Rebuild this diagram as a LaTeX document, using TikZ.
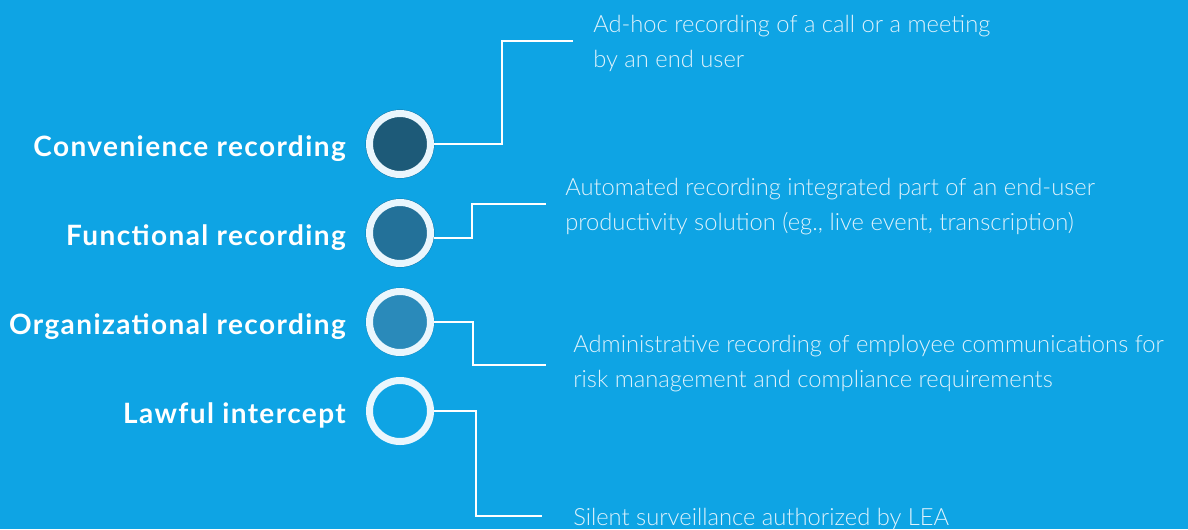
\documentclass[tikz,border=0pt]{standalone}
\usepackage{fontspec}
\setmainfont{Lato}
\newfontfamily\boldlabel{Lato}[UprightFont=*-Bold, LetterSpace=5]
\newfontfamily\lightfont{Lato Light}
\definecolor{bgc}{RGB}{14,164,228}
\definecolor{ringc}{RGB}{234,246,253}
\definecolor{edgec}{RGB}{20,90,130}
\definecolor{fillA}{RGB}{29,90,120}
\definecolor{fillB}{RGB}{35,113,153}
\definecolor{fillC}{RGB}{42,138,186}
\definecolor{descc}{RGB}{222,242,252}
\tikzset{
  ring/.style={circle, draw=ringc, line width=5.25pt, minimum size=45.75pt, inner sep=0pt},
  rim/.style={draw=edgec!70!bgc, line width=0.6pt},
  label/.style={anchor=base east, text=white, font=\boldlabel\fontsize{21pt}{25pt}\selectfont, inner sep=0pt},
  desc/.style={anchor=base west, text=descc, align=left, font=\lightfont\fontsize{17.8pt}{26.25pt}\selectfont, inner sep=0pt},
  link/.style={draw=white, line width=1.1pt},
}
\begin{document}
\begin{tikzpicture}[x=0.75pt,y=-0.75pt]
\fill[bgc] (0,0) rectangle (1188,529);
\useasboundingbox (0,0) rectangle (1188,529);
% circles
\draw[rim] (400,144) circle (34);
\node[ring, fill=fillA] (c1) at (400,144) {};
\draw[rim] (400,233) circle (34);
\node[ring, fill=fillB] (c2) at (400,233) {};
\draw[rim, draw=edgec!40!bgc] (400,322) circle (34);
\node[ring, fill=fillC] (c3) at (400,322) {};
\node[ring, fill=bgc] (c4) at (400,411) {};
% labels
\node[label] (l1) at (346,156) {Convenience recording};
\node[label] (l2) at (346,245) {Functional recording};
\node[label] (l3) at (346,334) {Organizational recording};
\node[label] (l4) at (346,423) {Lawful intercept};
% descriptions (anchored at the baseline of the last line)
\node[desc] (d1) at (593,67) {Ad-hoc recording of a call or a meeting\\by an end user};
\node[desc] (d2) at (565,230) {Automated recording integrated part of an end-user\\productivity solution (eg., live event, transcription)};
\node[desc] (d3) at (573,387) {Administrative recording of employee communications for\\risk management and compliance requirements};
\node[desc] (d4) at (573,525) {Silent surveillance authorized by LEA};
% connector ends
\coordinate (e1) at (573,41);
\coordinate (e2) at (546,204);
\coordinate (e3) at (546,365);
\coordinate (e4) at (542,516);
% connectors
\draw[link] (c1.east) -- ++(68,0) |- (e1);
\draw[link] ([yshift=-3.75pt]c2.east) -- ++(38,0) |- (e2);
\draw[link] (c3.east) -- ++(39,0) |- (e3);
\draw[link] (c4.east) -- ++(42,0) |- (e4);
\end{tikzpicture}
\end{document}
